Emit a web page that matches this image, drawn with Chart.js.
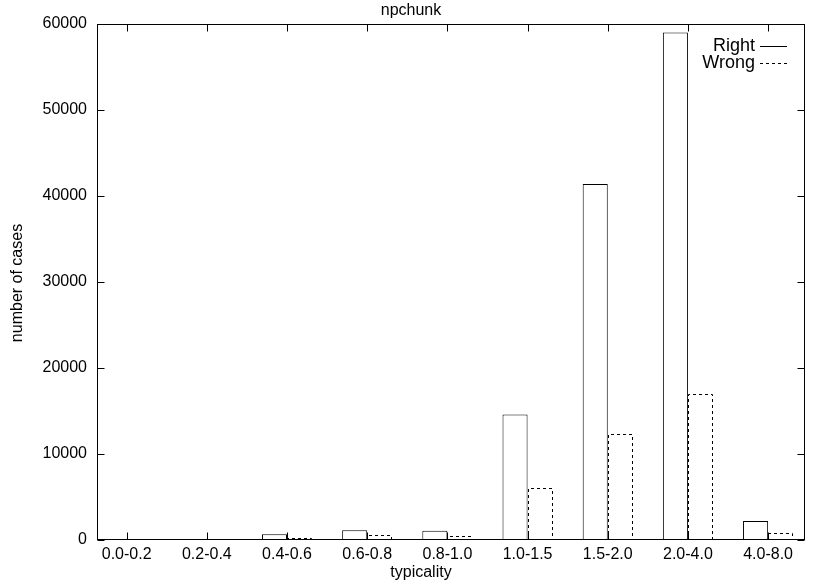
<!DOCTYPE html>
<html>
<head>
<meta charset="utf-8">
<script src="https://cdn.jsdelivr.net/npm/chart.js@4.4.1/dist/chart.umd.min.js"></script>
<style>
html, body { margin: 0; padding: 0; background: #fff; }
</style>
</head>
<body>
<canvas id="typ_chart" width="830" height="581"></canvas>
<script>
// data
var categories = ['0.0-0.2', '0.2-0.4', '0.4-0.6', '0.6-0.8', '0.8-1.0', '1.0-1.5', '1.5-2.0', '2.0-4.0', '4.0-8.0']
var right_counts = [15, 120, 660, 1130, 1090, 14600, 41400, 59000, 2200]
var wrong_counts = [5, 30, 280, 550, 500, 6100, 12350, 17000, 800]
var y_ticks = [0, 10000, 20000, 30000, 40000, 50000, 60000]
var chart_title = 'npchunk'
var x_title = 'typicality'
var y_title = 'number of cases'

var font_name = '"Liberation Sans", Arial, Helvetica, sans-serif'

function toPoints(values){ // bars sit on a linear x axis, one unit per category
  return values.map(function(v, i){ return { x: i, y: v } })
}

// frame, inward ticks, dashed bars, legend and titles in gnuplot style
var gnuplot_plugin = {
  id: 'gnuplot',
  afterDatasetsDraw: function(chart){
    var ctx = chart.ctx
    var meta = chart.getDatasetMeta(1)
    ctx.save()
    ctx.strokeStyle = '#000'
    ctx.lineWidth = 1
    ctx.setLineDash([3, 3])
    meta.data.forEach(function(bar){
      var p = bar.getProps(['x', 'y', 'base', 'width'], true)
      if (p.base - p.y < 1) return
      var l = Math.round(p.x - p.width / 2) + 0.5
      var r = Math.round(p.x + p.width / 2) - 0.5
      var t = Math.round(p.y) + 0.5
      var b = Math.round(p.base)
      ctx.beginPath()
      ctx.moveTo(l, b)
      ctx.lineTo(l, t)
      ctx.lineTo(r, t)
      ctx.lineTo(r, b)
      ctx.stroke()
    })
    ctx.restore()
  },
  afterDraw: function(chart){
    var ctx = chart.ctx
    var a = chart.chartArea
    var xs = chart.scales.x
    var ys = chart.scales.y
    var L = Math.round(a.left) + 0.5, R = Math.round(a.right) - 0.5
    var T = Math.round(a.top) + 0.5, B = Math.round(a.bottom) - 0.5
    var tl = 7
    ctx.save()
    ctx.strokeStyle = '#000'
    ctx.lineWidth = 1
    ctx.strokeRect(L, T, R - L, B - T)
    ctx.beginPath()
    categories.forEach(function(c, i){
      var px = Math.round(xs.getPixelForValue(i)) + 0.5
      ctx.moveTo(px, B); ctx.lineTo(px, B - tl)
      ctx.moveTo(px, T); ctx.lineTo(px, T + tl)
    })
    y_ticks.forEach(function(v){
      var py = Math.round(ys.getPixelForValue(v)) + 0.5
      ctx.moveTo(L, py); ctx.lineTo(L + tl, py)
      ctx.moveTo(R, py); ctx.lineTo(R - tl, py)
    })
    ctx.stroke()

    // legend
    ctx.font = '18px ' + font_name
    ctx.fillStyle = '#000'
    ctx.textAlign = 'right'
    ctx.textBaseline = 'middle'
    chart.data.datasets.forEach(function(ds, i){
      var y = 46 + i * 17
      ctx.fillText(ds.label, 755, y)
      ctx.setLineDash(i === 0 ? [] : [3, 3])
      ctx.beginPath()
      ctx.moveTo(760, Math.round(y) + 0.5)
      ctx.lineTo(787, Math.round(y) + 0.5)
      ctx.stroke()
    })
    ctx.setLineDash([])

    // titles
    ctx.font = '16px ' + font_name
    ctx.textAlign = 'center'
    ctx.fillText(chart_title, 411, 11)
    ctx.fillText(x_title, 421, 573)
    ctx.translate(18, 283)
    ctx.rotate(-Math.PI / 2)
    ctx.fillText(y_title, 0, 0)
    ctx.restore()
  }
}

var typ_canvas = document.getElementById('typ_chart')
var typ_chart = new Chart(typ_canvas.getContext('2d'), {
  type: 'bar',
  data: {
    datasets: [{
      label: 'Right',
      data: toPoints(right_counts),
      backgroundColor: '#fff',
      borderColor: '#000',
      borderWidth: 1,
      borderSkipped: 'start',
      categoryPercentage: 0.625,
      barPercentage: 1
    }, {
      label: 'Wrong',
      data: toPoints(wrong_counts),
      backgroundColor: 'rgba(255,255,255,0)',
      borderWidth: 0,
      categoryPercentage: 0.625,
      barPercentage: 1
    }]
  },
  options: {
    responsive: false,
    animation: false,
    devicePixelRatio: 1,
    layout: { padding: { top: 24, right: 25, left: 0, bottom: 0 } },
    plugins: {
      legend: { display: false },
      title: { display: false },
      tooltip: { enabled: false }
    },
    scales: {
      x: {
        type: 'linear',
        min: -0.37,
        max: 8.46,
        offset: false,
        grid: { display: false, drawTicks: false },
        border: { display: false },
        afterFit: function(scale){ scale.height = 41 },
        ticks: {
          stepSize: 1,
          includeBounds: false,
          autoSkip: false,
          maxRotation: 0,
          padding: 5,
          color: '#000',
          font: { family: font_name, size: 16 },
          callback: function(value){
            return Number.isInteger(value) && categories[value] ? categories[value] : ''
          }
        }
      },
      y: {
        min: 0,
        max: 60000,
        grid: { display: false, drawTicks: false },
        border: { display: false },
        afterFit: function(scale){ scale.width = 97 },
        ticks: {
          stepSize: 10000,
          padding: 10,
          color: '#000',
          font: { family: font_name, size: 16 },
          callback: function(value){ return String(value) }
        }
      }
    }
  },
  plugins: [gnuplot_plugin]
})
</script>
</body>
</html>
